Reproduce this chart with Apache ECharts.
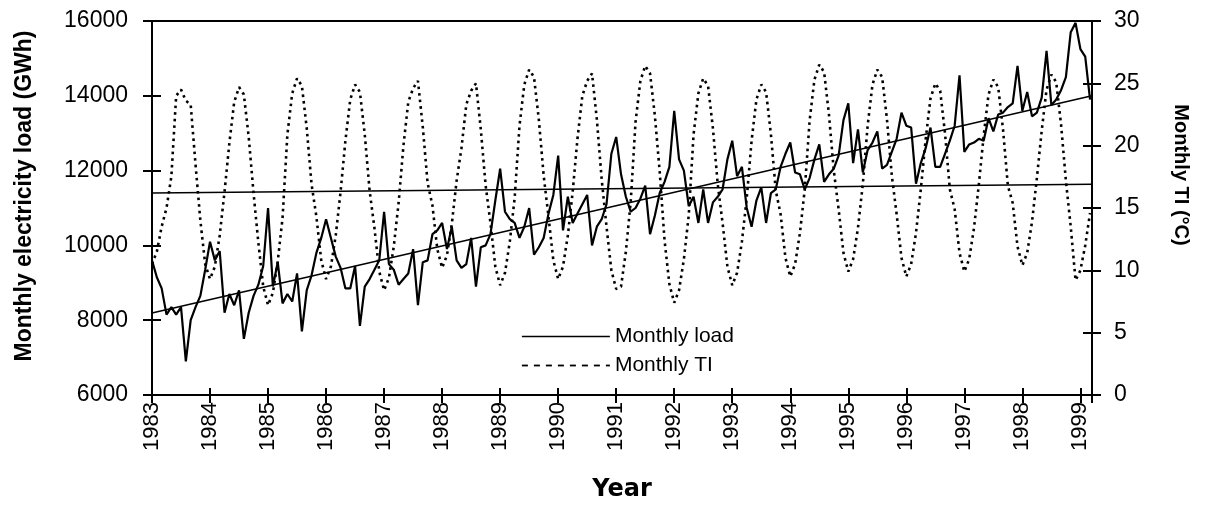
<!DOCTYPE html>
<html><head><meta charset="utf-8">
<script src="https://cdn.jsdelivr.net/npm/echarts@6/dist/echarts.min.js"></script>
<style>html,body{margin:0;padding:0;background:#fff}#c{width:1209px;height:509px}</style>
</head><body><div id="c"></div>
<script>
// ---- data ----
const startYear = 1983;
const xMax = 1999.2;
const yearTicks = [1983,1984,1985,1986,1987,1988,1989,1990,1991,1992,1993,1994,1995,1996,1997,1998,1999];
const loadTicks = [6000, 8000, 10000, 12000, 14000, 16000];
const tiTicks = [0, 5, 10, 15, 20, 25, 30];

// Monthly electricity load (GWh), Jan 1983 .. Mar 1999
const monthlyLoad = [
  9600, 9150, 8850, 8150, 8350, 8150, 8350, 6900, 8000, 8350, 8650, 9350,        // 1983
  10100, 9600, 9850, 8200, 8700, 8400, 8800, 7500, 8200, 8650, 8950, 9450,       // 1984
  11000, 8900, 9550, 8450, 8700, 8500, 9250, 7700, 8800, 9200, 9800, 10200,      // 1985
  10700, 10200, 9700, 9400, 8850, 8850, 9450, 7850, 8900, 9100, 9350, 9600,      // 1986
  10900, 9500, 9350, 8950, 9100, 9250, 9900, 8400, 9550, 9600, 10300, 10400,     // 1987
  10600, 9900, 10500, 9600, 9400, 9500, 10200, 8900, 9950, 10000, 10300, 11200,  // 1988
  12050, 10900, 10700, 10600, 10200, 10500, 11000, 9750, 9950, 10200, 10850, 11350, // 1989
  12400, 10400, 11300, 10600, 10850, 11100, 11350, 10000, 10500, 10700, 11100, 12450, // 1990
  12900, 11900, 11300, 10900, 11000, 11250, 11600, 10300, 10800, 11400, 11700, 12100, // 1991
  13600, 12300, 12000, 11050, 11300, 10600, 11500, 10600, 11150, 11300, 11500, 12300, // 1992
  12800, 11850, 12100, 11000, 10500, 11200, 11550, 10600, 11400, 11500, 12100, 12450, // 1993
  12750, 11950, 11900, 11500, 11800, 12300, 12700, 11700, 11900, 12050, 12400, 13350, // 1994
  13800, 12200, 13100, 11950, 12550, 12750, 13050, 12050, 12150, 12500, 12850, 13550, // 1995
  13200, 13150, 11650, 12200, 12600, 13150, 12100, 12100, 12450, 12800, 13200, 14550, // 1996
  12500, 12700, 12750, 12850, 12800, 13400, 13050, 13500, 13550, 13700, 13800, 14800, // 1997
  13600, 14100, 13450, 13550, 13950, 15200, 13750, 13900, 14150, 14500, 15700, 15950, // 1998
  15250, 15050, 13900                                                             // 1999
];

// Monthly TI (°C), Jan 1983 .. Mar 1999
const monthlyTI = [
  10.5, 11.5, 13.5, 15.0, 17.5, 24.0, 24.5, 23.6, 23.3, 18.5, 14.0, 10.5, // 1983
  9.3, 10.3, 12.8, 16.3, 20.2, 23.5, 24.7, 24.1, 20.7, 16.2, 12.2, 8.7,   // 1984
  7.2, 8.2, 10.7, 14.2, 20.9, 24.2, 25.4, 24.8, 21.4, 16.9, 14.3, 10.8,   // 1985
  9.3, 10.3, 12.8, 16.3, 20.4, 23.7, 24.9, 24.3, 20.9, 16.4, 13.4, 9.9,   // 1986
  8.4, 9.4, 11.9, 15.4, 20.0, 23.5, 24.6, 25.2, 21.5, 17.0, 15.2, 11.7,   // 1987
  10.2, 11.2, 13.7, 17.2, 19.8, 23.3, 24.4, 25.0, 21.3, 16.8, 13.8, 10.3, // 1988
  8.8, 9.8, 12.3, 15.8, 21.6, 24.9, 26.1, 25.5, 22.1, 17.6, 14.3, 10.8,   // 1989
  9.3, 10.3, 12.8, 16.3, 20.6, 24.0, 25.2, 25.8, 22.1, 17.3, 13.5, 10.0,  // 1990
  8.5, 8.7, 11.5, 15.5, 21.9, 25.2, 26.4, 25.8, 22.4, 17.9, 12.4, 8.9,    // 1991
  7.4, 8.4, 10.9, 14.4, 20.9, 24.2, 25.4, 24.8, 21.4, 16.9, 13.8, 10.3,   // 1992
  8.8, 9.8, 12.3, 15.8, 20.4, 23.7, 24.9, 24.3, 20.9, 16.4, 14.5, 11.0,   // 1993
  9.5, 10.5, 13.0, 16.5, 22.0, 25.3, 26.5, 25.9, 22.5, 18.0, 14.9, 11.4,  // 1994
  9.9, 10.9, 13.4, 16.9, 21.6, 24.9, 26.1, 25.5, 22.1, 17.6, 14.5, 11.0,  // 1995
  9.5, 10.5, 13.0, 16.5, 20.5, 23.8, 25.0, 24.4, 21.0, 16.5, 14.9, 11.4,  // 1996
  9.9, 10.9, 13.4, 16.9, 20.8, 24.1, 25.3, 24.7, 21.3, 16.8, 15.4, 11.9,  // 1997
  10.4, 11.4, 13.9, 17.4, 21.2, 24.5, 25.7, 25.1, 21.7, 17.2, 13.5, 9.2,  // 1998
  10.0, 12.0, 14.6                                                        // 1999
];

// Linear trend lines (end points)
const loadTrend = [[1983, 8190], [1999.2, 14000]];
const tiTrend = [[1983, 16.2], [1999.2, 16.9]];

// ---- chart ----
const toPairs = arr => arr.map((v, i) => [startYear + i / 12, v]);
const black = '#000';
const numFont = 'Liberation Sans';
const plain = v => String(v);

const chart = echarts.init(document.getElementById('c'), null, {renderer: 'canvas'});
const axisLineStyle = {color: black, width: 2};

chart.setOption({
  animation: false,
  backgroundColor: '#fff',
  grid: {left: 152, right: 117, top: 21, bottom: 114, containLabel: false},
  xAxis: [
    {
      type: 'value', min: yearTicks[0], max: xMax, interval: 1, position: 'bottom',
      axisLine: {show: true, onZero: false, lineStyle: axisLineStyle},
      axisTick: {show: true, inside: false, length: 8, lineStyle: axisLineStyle},
      axisLabel: {rotate: 90, margin: 7, color: black, fontSize: 22, fontFamily: numFont,
        formatter: v => (yearTicks.indexOf(Math.round(v * 1000) / 1000) >= 0 ? String(Math.round(v)) : '')},
      splitLine: {show: false},
      name: 'Year', nameLocation: 'middle', nameGap: 83,
      nameTextStyle: {fontFamily: 'DejaVu Sans', fontWeight: 'bold', fontSize: 24, color: black}
    },
    {
      type: 'value', min: yearTicks[0], max: xMax, interval: 1, position: 'bottom',
      axisLine: {show: false, onZero: false},
      axisTick: {show: true, inside: true, length: 7, lineStyle: axisLineStyle},
      axisLabel: {show: false}, splitLine: {show: false}
    },
    {
      type: 'value', min: yearTicks[0], max: xMax, position: 'top',
      axisLine: {show: true, onZero: false, lineStyle: axisLineStyle},
      axisTick: {show: false}, axisLabel: {show: false}, splitLine: {show: false}
    }
  ],
  yAxis: [
    {
      type: 'value', min: loadTicks[0], max: loadTicks[loadTicks.length - 1], interval: loadTicks[1] - loadTicks[0],
      position: 'left',
      axisLine: {show: true, onZero: false, lineStyle: axisLineStyle},
      axisTick: {show: true, inside: false, length: 9, lineStyle: axisLineStyle},
      axisLabel: {margin: 24, color: black, fontSize: 23, fontFamily: numFont, formatter: plain},
      splitLine: {show: false}
    },
    {
      type: 'value', min: tiTicks[0], max: tiTicks[tiTicks.length - 1], interval: tiTicks[1] - tiTicks[0],
      position: 'right',
      axisLine: {show: true, onZero: false, lineStyle: axisLineStyle},
      axisTick: {show: true, inside: false, length: 9, lineStyle: axisLineStyle},
      axisLabel: {margin: 22, color: black, fontSize: 23, fontFamily: numFont, formatter: plain},
      splitLine: {show: false}
    },
    {
      type: 'value', min: loadTicks[0], max: loadTicks[loadTicks.length - 1], interval: loadTicks[1] - loadTicks[0],
      position: 'left',
      axisLine: {show: false},
      axisTick: {show: true, inside: true, length: 9, lineStyle: axisLineStyle},
      axisLabel: {show: false}, splitLine: {show: false}
    },
    {
      type: 'value', min: tiTicks[0], max: tiTicks[tiTicks.length - 1], interval: tiTicks[1] - tiTicks[0],
      position: 'right',
      axisLine: {show: false},
      axisTick: {show: true, inside: true, length: 9, lineStyle: axisLineStyle},
      axisLabel: {show: false}, splitLine: {show: false}
    }
  ],
  legend: {
    orient: 'vertical', left: 516, top: 321, itemWidth: 88, itemHeight: 14, itemGap: 8,
    selectedMode: false,
    textStyle: {fontFamily: numFont, fontSize: 21, color: black},
    data: [
      {name: 'Monthly load', itemStyle: {opacity: 0}, lineStyle: {width: 1.6, color: black}},
      {name: 'Monthly TI', itemStyle: {opacity: 0}, lineStyle: {width: 1.8, color: black, type: [6, 6]}}
    ]
  },
  graphic: [
    {type: 'text', x: 25, y: 196, rotation: Math.PI / 2,
      style: {text: 'Monthly electricity load (GWh)', fill: black, font: 'bold 23px "Liberation Sans"',
        align: 'center', verticalAlign: 'middle', textAlign: 'center', textVerticalAlign: 'middle'}},
    {type: 'text', x: 1181, y: 175, rotation: -Math.PI / 2,
      style: {text: 'Monthly TI (°C)', fill: black, font: 'bold 20px "Liberation Sans"',
        align: 'center', verticalAlign: 'middle', textAlign: 'center', textVerticalAlign: 'middle'}}
  ],
  series: [
    {name: 'Monthly TI', type: 'line', xAxisIndex: 0, yAxisIndex: 1, data: toPairs(monthlyTI),
      symbol: 'none', showSymbol: false, z: 3,
      itemStyle: {color: black},
      lineStyle: {color: black, width: 2.6, type: [2.6, 4]}},
    {name: 'Monthly load', type: 'line', xAxisIndex: 0, yAxisIndex: 0, data: toPairs(monthlyLoad),
      symbol: 'none', showSymbol: false, z: 4,
      itemStyle: {color: black},
      lineStyle: {color: black, width: 2.2}},
    {name: 'Load trend', type: 'line', xAxisIndex: 0, yAxisIndex: 0, data: loadTrend,
      symbol: 'none', showSymbol: false, silent: true, z: 5,
      lineStyle: {color: black, width: 1.6}},
    {name: 'TI trend', type: 'line', xAxisIndex: 0, yAxisIndex: 1, data: tiTrend,
      symbol: 'none', showSymbol: false, silent: true, z: 5,
      lineStyle: {color: black, width: 1.6}}
  ]
});
</script></body></html>
